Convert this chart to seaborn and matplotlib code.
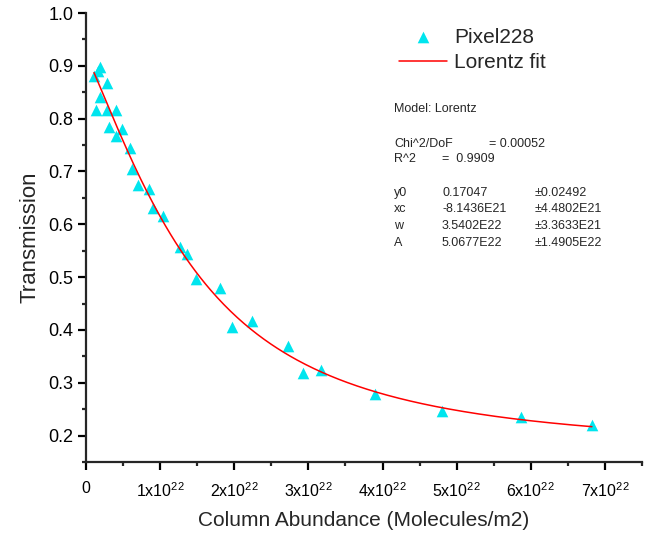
import numpy as np
import pandas as pd
import matplotlib
matplotlib.use('Agg')
import matplotlib.pyplot as plt
import seaborn as sns
from matplotlib.ticker import MultipleLocator, FuncFormatter

# measured points (column abundance in 1e22 molecules/m2, transmission)
abundance = [0.108, 0.162, 0.189, 0.284, 0.189, 0.135, 0.284, 0.405, 0.311, 0.486,
             0.405, 0.595, 0.622, 0.703, 0.851, 0.905, 1.041, 1.270, 1.365, 1.486,
             1.811, 1.973, 2.243, 2.730, 2.932, 3.176, 3.892, 4.797, 5.865, 6.824]
transmission = [0.881, 0.890, 0.898, 0.867, 0.841, 0.816, 0.816, 0.816, 0.784, 0.780,
                0.768, 0.744, 0.704, 0.675, 0.666, 0.630, 0.616, 0.557, 0.544, 0.497,
                0.479, 0.405, 0.417, 0.369, 0.318, 0.325, 0.278, 0.246, 0.236, 0.221]

# Lorentz fit parameters (x in units of 1e22)
y0, xc, w, A = 0.17047, -0.81436, 3.5402, 5.0677

param_names = ["y0", "xc", "w", "A"]
param_values = ["0.17047", "-8.1436E21", "3.5402E22", "5.0677E22"]
param_errors = ["\u00b10.02492", "\u00b14.4802E21", "\u00b13.3633E21", "\u00b11.4905E22"]

sns.set_style('ticks')
plt.rcParams['font.family'] = ['Liberation Sans', 'DejaVu Sans']
plt.rcParams['mathtext.fontset'] = 'custom'
plt.rcParams['mathtext.rm'] = 'Liberation Sans'

df = pd.DataFrame({'x': abundance, 'y': transmission})
xf = np.linspace(min(abundance), max(abundance), 300)
fit = pd.DataFrame({'x': xf, 'y': y0 + 2 * A / np.pi * w / (4 * (xf - xc) ** 2 + w ** 2)})

fig = plt.figure(figsize=(6.53, 5.40), dpi=100)
ax = fig.add_axes([0.1317, 0.1444, 0.8515, 0.8315])

sns.scatterplot(data=df, x='x', y='y', ax=ax, marker='^', s=70, color='#00E5EE',
                linewidth=0, label='Pixel228', zorder=2)
sns.lineplot(data=fit, x='x', y='y', ax=ax, color='red', linewidth=1.1,
             label='Lorentz fit', zorder=3)

ax.set_xlim(0, 7.5)
ax.set_ylim(0.15, 1.0)
ax.xaxis.set_major_locator(MultipleLocator(1))
ax.xaxis.set_minor_locator(MultipleLocator(0.5))
ax.yaxis.set_major_locator(MultipleLocator(0.1))
ax.yaxis.set_minor_locator(MultipleLocator(0.05))
ax.xaxis.set_major_formatter(FuncFormatter(
    lambda v, p: '0' if abs(v) < 1e-9 else f'{v:.0f}x10$^{{22}}$'))
ax.yaxis.set_major_formatter(FuncFormatter(lambda v, p: f'{v:.1f}'))
for s in ['top', 'right']:
    ax.spines[s].set_visible(False)
for s in ['left', 'bottom']:
    ax.spines[s].set_linewidth(1.6)
ax.tick_params(which='major', length=6, width=1.6, colors='black')
ax.tick_params(which='minor', length=3, width=1.6)
ax.tick_params(axis='y', labelsize=13, pad=3)
ax.tick_params(axis='x', labelsize=11.5, pad=8)

ax.set_xlabel('Column Abundance (Molecules/m2)', fontsize=15, labelpad=8)
ax.set_ylabel('Transmission', fontsize=16, labelpad=6)

ax.legend(loc='upper left', bbox_to_anchor=(0.545, 0.99), frameon=False,
          fontsize=15, handlelength=2.3, handletextpad=0.33, labelspacing=0.3,
          borderpad=0)

fs = 9
fig.text(394 / 653, 1 - 109 / 540, "Model: Lorentz", fontsize=fs, va='center')
fig.text(394 / 653, 1 - 144 / 540, "Chi^2/DoF", fontsize=fs, va='center')
fig.text(489 / 653, 1 - 144 / 540, "= 0.00052", fontsize=fs, va='center')
fig.text(394 / 653, 1 - 159 / 540, "R^2", fontsize=fs, va='center')
fig.text(442 / 653, 1 - 159 / 540, "=  0.9909", fontsize=fs, va='center')
for i, (n, v, e) in enumerate(zip(param_names, param_values, param_errors)):
    yy = 1 - (193 + i * 16.5) / 540
    fig.text(394 / 653, yy, n, fontsize=fs, va='center')
    fig.text(442 / 653, yy, v, fontsize=fs, va='center')
    fig.text(535 / 653, yy, e, fontsize=fs, va='center')

fig.savefig('out.png', dpi=100)
